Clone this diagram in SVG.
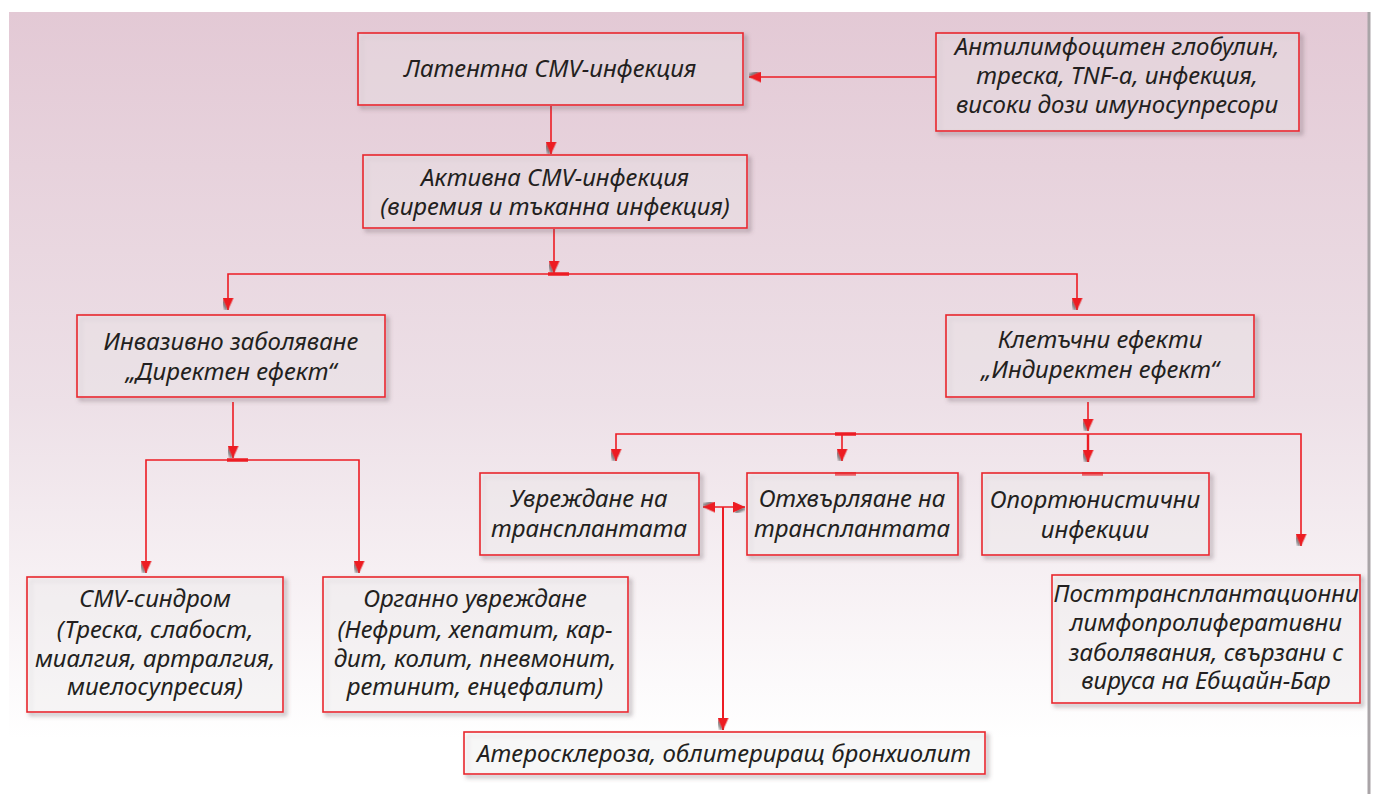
<svg xmlns="http://www.w3.org/2000/svg" width="1375" height="794" viewBox="0 0 1375 794">
<defs>
<linearGradient id="bg" x1="0" y1="0" x2="0" y2="1">
<stop offset="0" stop-color="#e3c9d5"/>
<stop offset="0.5" stop-color="#ede0e7"/>
<stop offset="0.93" stop-color="#ffffff"/>
<stop offset="1" stop-color="#ffffff"/>
</linearGradient>
<filter id="sh" x="-10%" y="-10%" width="130%" height="140%">
<feGaussianBlur in="SourceAlpha" stdDeviation="2" result="b"/>
<feOffset in="b" dx="3" dy="3" result="o"/>
<feFlood flood-color="#5a4a52" flood-opacity="0.55"/>
<feComposite in2="o" operator="in" result="s"/>
<feComposite in="s" in2="SourceAlpha" operator="out" result="so"/>
<feMerge><feMergeNode in="so"/><feMergeNode in="SourceGraphic"/></feMerge>
</filter>
<filter id="ash" x="-50%" y="-50%" width="250%" height="250%">
<feDropShadow dx="2" dy="2" stdDeviation="1.2" flood-color="#333" flood-opacity="0.6"/>
</filter>
<marker id="ah" viewBox="0 0 12 11" refX="12" refY="5.5" markerWidth="12" markerHeight="11" markerUnits="userSpaceOnUse" orient="auto-start-reverse">
<path d="M0,0 L12,5.5 L0,11 Z" fill="#ed1c24" filter="url(#ash)"/>
</marker>
</defs>
<style>
.box{fill:#ffffff;fill-opacity:0.25;stroke:#e8252d;stroke-width:1.6;filter:url(#sh)}
.t{font-family:"Noto Sans","Open Sans","DejaVu Sans",sans-serif;font-style:italic;font-size:24px;fill:#231f20;text-anchor:middle}
.c{fill:none;stroke:#ed1c24;stroke-width:1.6}
.a{marker-end:url(#ah)}
.tk{stroke:#ed1c24;stroke-width:3.5;fill:none}
</style>
<rect x="0" y="0" width="1375" height="794" fill="#ffffff"/>
<rect x="9" y="12" width="1359" height="782" fill="url(#bg)"/>
<line x1="1369" y1="12" x2="1369" y2="794" stroke="#a9a4a7" stroke-width="3"/>

<g id="connectors">
<path class="c a" d="M551,106 V154"/>
<path class="c a" d="M936,77 H749"/>
<path class="c a" d="M554,229 V273"/>
<path class="c a" d="M554,274 H228 V310"/>
<path class="c a" d="M554,274 H1077 V310"/>
<line class="tk" x1="548" y1="274" x2="569" y2="274"/>
<path class="c a" d="M233,402 V458"/>
<path class="c a" d="M233,460 H146 V573"/>
<path class="c a" d="M233,460 H359 V573"/>
<line class="tk" x1="227" y1="460" x2="248" y2="460"/>
<path class="c a" d="M1088,402 V431"/>
<path class="c a" d="M1088,434 H616 V461"/>
<path class="c a" d="M1088,434 H1301 V546"/>
<path class="c a" d="M842,434 V461"/>
<path class="c a" d="M1088,434 V462" style="stroke-width:2.4"/>
<line class="tk" x1="835" y1="434" x2="856" y2="434"/>
<line class="tk" x1="835" y1="474" x2="856" y2="474"/>
<line class="tk" x1="1082" y1="474" x2="1103" y2="474"/>
<path class="c" d="M703,507 H745" marker-start="url(#ah)" marker-end="url(#ah)"/>
<path class="c a" d="M723,507 V730" style="stroke-width:2"/>
</g>

<g id="latent">
<rect class="box" x="358" y="33" width="385" height="72"/>
<text class="t" lang="bg" x="550" y="77">Латентна CMV-инфекция</text>
</g>
<g id="antilymph">
<rect class="box" x="936" y="33" width="363" height="98"/>
<text class="t" lang="bg" x="1117" y="55">Антилимфоцитен глобулин,</text>
<text class="t" lang="bg" x="1117" y="84">треска, TNF-a, инфекция,</text>
<text class="t" lang="bg" x="1117" y="113">високи дози имуносупресори</text>
</g>
<g id="active">
<rect class="box" x="363" y="155" width="384" height="73"/>
<text class="t" lang="bg" x="555" y="186">Активна CMV-инфекция</text>
<text class="t" lang="bg" x="555" y="215">(виремия и тъканна инфекция)</text>
</g>
<g id="invasive">
<rect class="box" x="77" y="315" width="308" height="82"/>
<text class="t" lang="bg" x="231" y="350">Инвазивно заболяване</text>
<text class="t" lang="bg" x="231" y="380">„Директен ефект“</text>
</g>
<g id="cellular">
<rect class="box" x="946" y="315" width="308" height="82"/>
<text class="t" lang="bg" x="1100" y="348">Клетъчни ефекти</text>
<text class="t" lang="bg" x="1100" y="378">„Индиректен ефект“</text>
</g>
<g id="damage">
<rect class="box" x="480" y="473" width="219" height="82"/>
<text class="t" lang="bg" x="589" y="507">Увреждане на</text>
<text class="t" lang="bg" x="589" y="537">трансплантата</text>
</g>
<g id="rejection">
<rect class="box" x="747" y="473" width="211" height="82"/>
<text class="t" lang="bg" x="852" y="507">Отхвърляане на</text>
<text class="t" lang="bg" x="852" y="537">трансплантата</text>
</g>
<g id="opportunistic">
<rect class="box" x="982" y="473" width="227" height="82"/>
<text class="t" lang="bg" x="1095" y="508">Опортюнистични</text>
<text class="t" lang="bg" x="1095" y="538">инфекции</text>
</g>
<g id="cmv-syndrome">
<rect class="box" x="27" y="577" width="256" height="135"/>
<text class="t" lang="bg" x="155" y="607">CMV-синдром</text>
<text class="t" lang="bg" x="155" y="638">(Треска, слабост,</text>
<text class="t" lang="bg" x="155" y="667">миалгия, артралгия,</text>
<text class="t" lang="bg" x="155" y="695">миелосупресия)</text>
</g>
<g id="organ">
<rect class="box" x="323" y="577" width="305" height="135"/>
<text class="t" lang="bg" x="475" y="607">Органно увреждане</text>
<text class="t" lang="bg" x="475" y="638">(Нефрит, хепатит, кар-</text>
<text class="t" lang="bg" x="475" y="667">дит, колит, пневмонит,</text>
<text class="t" lang="bg" x="475" y="695">ретинит, енцефалит)</text>
</g>
<g id="ptld">
<rect class="box" x="1052" y="575" width="308" height="128"/>
<text class="t" lang="bg" x="1206" y="602">Посттрансплантационни</text>
<text class="t" lang="bg" x="1206" y="631">лимфопролиферативни</text>
<text class="t" lang="bg" x="1206" y="661">заболявания, свързани с</text>
<text class="t" lang="bg" x="1206" y="689">вируса на Ебщайн-Бар</text>
</g>
<g id="atherosclerosis">
<rect class="box" x="464" y="732" width="521" height="42"/>
<text class="t" lang="bg" x="724" y="762">Атеросклероза, облитериращ бронхиолит</text>
</g>
</svg>
